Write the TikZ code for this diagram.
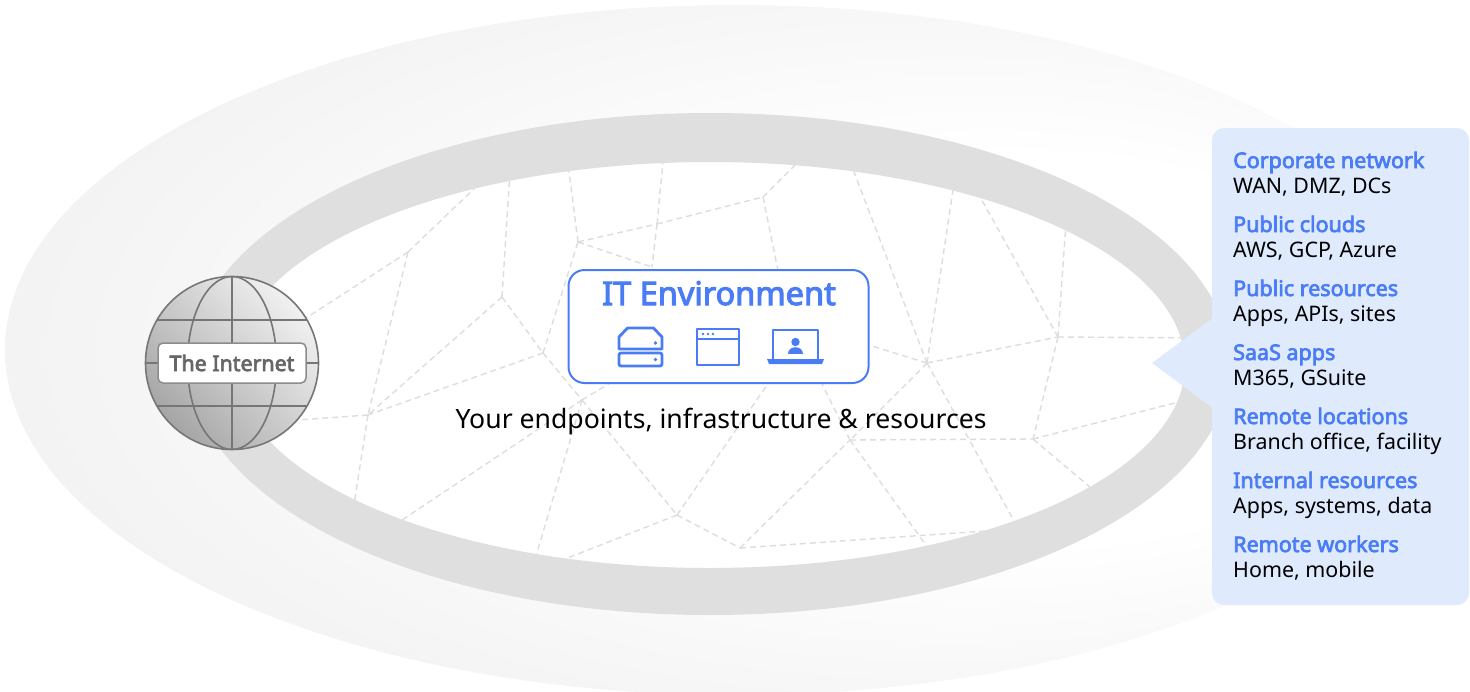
\documentclass[tikz,border=0pt]{standalone}
\usepackage{fontspec}
\setmainfont{Noto Sans}[AutoFakeBold=3.2]
\usetikzlibrary{positioning,shadings}
\definecolor{itblue}{RGB}{74,124,246}
\definecolor{panelblue}{RGB}{223,234,252}
\definecolor{ringgray}{RGB}{223,223,223}
\definecolor{meshgray}{RGB}{221,221,221}
\definecolor{globegray}{RGB}{118,118,118}
\definecolor{labelgray}{RGB}{102,102,102}
\pgfdeclareradialshading{haze}{\pgfpoint{13bp}{0bp}}{color(0bp)=(white); color(14bp)=(white);
  color(34bp)=(black!6); color(50bp)=(black!6)}

\begin{document}
\begin{tikzpicture}[x=1pt,y=-1pt,
  mesh/.style={meshgray,line width=1.4pt,dash pattern=on 6pt off 4pt},
  icon/.style={itblue,line width=2.8pt,line join=round},
  head/.style={anchor=base west,inner sep=0pt,text=itblue,font=\fontsize{21.5}{24}\selectfont\bfseries},
  sub/.style={anchor=base west,inner sep=0pt,font=\fontsize{21.4}{24}\selectfont}]
\useasboundingbox (0,0) rectangle (1470,691);
\shade[shading=haze] (735,350) ellipse [x radius=730pt,y radius=345pt];
\fill[white] (710,365) ellipse [x radius=475pt,y radius=203pt];

% dashed mesh inside the ring
\coordinate (m1) at (408,252);  \coordinate (m2) at (502,297);
\coordinate (m3) at (543,353);  \coordinate (m4) at (578,242);
\coordinate (m5) at (657,224);  \coordinate (m6) at (763,197);
\coordinate (m7) at (927,363);  \coordinate (m8) at (1058,337);
\coordinate (m9) at (368,415);  \coordinate (m10) at (582,400);
\coordinate (m11) at (677,515); \coordinate (m12) at (740,548);
\coordinate (m13) at (850,440); \coordinate (m14) at (1033,439);
\coordinate (m15) at (652,267);
\coordinate (e1) at (525,140);  \coordinate (e2) at (280,335);
\coordinate (e3) at (512,140);  \coordinate (e4) at (565,140);
\coordinate (e5) at (666,130);  \coordinate (e6) at (830,130);
\coordinate (e7) at (782,290);  \coordinate (e8) at (838,130);
\coordinate (e9) at (962,130);  \coordinate (e10) at (954,150);
\coordinate (e11) at (1069,180);\coordinate (e12) at (1220,338);
\coordinate (e13) at (862,343); \coordinate (e14) at (1030,550);
\coordinate (e15) at (815,370); \coordinate (e16) at (944,570);
\coordinate (e17) at (1000,530);\coordinate (e18) at (774,375);
\coordinate (e19) at (560,561); \coordinate (e20) at (1230,389);
\coordinate (e21) at (1110,504);\coordinate (e22) at (526,590);
\coordinate (e23) at (357,550); \coordinate (e24) at (650,359);
\coordinate (e25) at (270,422); \coordinate (e26) at (350,530);
\begin{scope}
\clip (710,365) ellipse [x radius=475pt,y radius=203pt];
\foreach \a/\b in {m1/e1,m1/e2,m2/e3,m4/e4,m5/e5,m6/e6,m6/e7,m7/e8,m7/e9,m8/e10,
  m8/e11,m8/e12,m7/e13,m7/e14,m13/e15,m13/e16,m12/e17,m11/e18,m11/e19,m14/e20,
  m14/e21,m10/e22,m10/e23,m10/e24,m9/e25,m9/e26,
  m1/m9,m2/m9,m3/m9,m2/m3,m3/m4,m3/m10,m4/m5,m5/m6,m4/m15,m5/m15,m7/m8,m7/m13,
  m8/m14,m13/m14,m12/m13,m11/m12,m10/m11}
  \draw[mesh] (\a) -- (\b);
\end{scope}

% ring
\fill[ringgray,even odd rule] (710,364) ellipse [x radius=520pt,y radius=251pt]
  (710,365) ellipse [x radius=475pt,y radius=203pt];

% globe
\node[circle,minimum size=173pt,inner sep=0pt,draw=globegray,line width=1.6pt,
  upper left=black!20,upper right=white,lower left=black!42,lower right=black!18] (globe) at (232,363) {};
\begin{scope}
\clip (globe.center) circle (86pt);
\draw[globegray,line width=1.6pt] (globe.north) -- (globe.south)
  (globe.center) ellipse [x radius=44.5pt,y radius=86.5pt]
  (145,320) -- (319,320) (145,363) -- (319,363) (145,406) -- (319,406);
\end{scope}
\node[draw=black!45,line width=1.5pt,fill=white,rounded corners=5pt,minimum width=148pt,minimum height=40pt,
  text=labelgray,font=\fontsize{21.4}{24}\selectfont\bfseries] (net) at (globe.center) {The Internet};

% IT environment box
\node[draw=itblue,line width=2pt,fill=white,rounded corners=16pt,minimum width=300pt,minimum height=113pt] (itenv) at (718.5,326.5) {};
\node[anchor=base,inner sep=0pt,text=itblue,font=\fontsize{32.5}{36}\selectfont\bfseries] (ittitle) at (719,305) {IT Environment};
\node[anchor=base,inner sep=0pt,font=\fontsize{26.6}{30}\selectfont] (itcap) at (721,428) {Your endpoints, infrastructure \& resources};
\begin{scope}[shift={(640.5,347)}]
\draw[icon] (-13,-19) -- (13,-19) -- (21.5,-10) -- (21.5,2) -- (-21.5,2) -- (-21.5,-10) -- cycle;
\draw[icon,rounded corners=2pt] (-21.5,6) rectangle (21.5,19);
\fill[itblue] (15,-4) circle (1.8pt) (15,12.5) circle (1.8pt);
\end{scope}
\begin{scope}[shift={(718,347)}]
\draw[icon] (-21,-18) rectangle (21,18) (-21,-8) -- (21,-8);
\fill[itblue] (-15,-13) circle (1.4pt) (-10,-13) circle (1.4pt) (-5,-13) circle (1.4pt);
\end{scope}
\begin{scope}[shift={(795.5,347)}]
\draw[icon] (-22.5,-17) rectangle (22.5,13);
\fill[itblue] (-28.5,12) -- (28.5,12) -- (26.5,17) -- (-26.5,17) -- cycle;
\fill[itblue] (0,-5) circle (4.2pt);
\fill[itblue] (-7.5,7) .. controls (-7.5,-2) and (7.5,-2) .. (7.5,7) -- cycle;
\end{scope}

% side panel
\node[fill=panelblue,rounded corners=12pt,minimum width=257pt,minimum height=477pt,inner sep=0pt] (panel) at (1340.5,366.5) {};
\coordinate (tip) at (1152,363);
\fill[panelblue] (tip) -- (1214,317) -- (1214,409) -- cycle;
\foreach \head/\body [count=\i] in {{Corporate network}/{WAN, DMZ, DCs},
  {Public clouds}/{AWS, GCP, Azure},{Public resources}/{Apps, APIs, sites},
  {SaaS apps}/{M365, GSuite},{Remote locations}/{Branch office, facility},
  {Internal resources}/{Apps, systems, data},{Remote workers}/{Home, mobile}}{
  \node[head] (h\i) at (1233,{104+64*\i}) {\head};
  \node[sub] (s\i) at (1233,{129+64*\i}) {\body};
}
\end{tikzpicture}
\end{document}
